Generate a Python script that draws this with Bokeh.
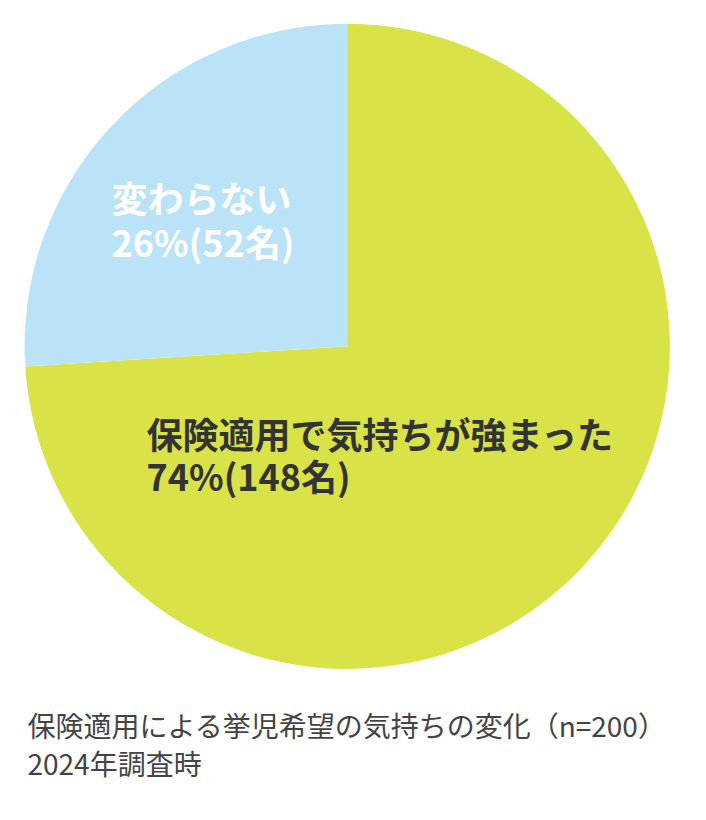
import math
from bokeh.plotting import figure
from bokeh.models import Range1d, ColumnDataSource
from bokeh.core.properties import value
from bokeh.embed import file_html
from bokeh.resources import INLINE

# data
categories = ["保険適用で気持ちが強まった", "変わらない"]
percents = [74, 26]
counts = [148, 52]
colors = ["#d9e247", "#bbe3f8"]
caption_lines = ["保険適用による挙児希望の気持ちの変化（n=200）", "2024年調査時"]

W, H = 690, 804
p = figure(width=W, height=H, output_backend="svg", toolbar_location=None,
           x_range=Range1d(0, W), y_range=Range1d(0, H), min_border=0)
p.axis.visible = False
p.grid.visible = False
p.outline_line_color = None
p.background_fill_color = "white"
p.border_fill_color = "white"

def Y(screen_y):
    return H - screen_y

cx, cy, r = 346.7, Y(345.8), 322.6

# wedges: start at 12 o'clock, first slice clockwise
total = sum(percents)
starts, ends = [], []
a = math.pi / 2
for v in percents:
    span = 2 * math.pi * v / total
    starts.append(a - span)
    ends.append(a)
    a -= span
src = ColumnDataSource(dict(start=starts, end=ends, color=colors))
p.wedge(x=cx, y=cy, radius=r, start_angle="start", end_angle="end",
        fill_color="color", line_color=None, source=src)

font = value("Noto Sans CJK JP")
# label for large slice
p.text(x=[146, 146], y=[Y(432), Y(474)],
       text=[categories[0], f"{percents[0]}%({counts[0]}名)"],
       text_font=font, text_font_size="36px", text_font_style="bold",
       text_color="#333333", text_baseline="middle", text_align="left")
# label for small slice
p.text(x=[111, 111], y=[Y(196), Y(240)],
       text=[categories[1], f"{percents[1]}%({counts[1]}名)"],
       text_font=font, text_font_size="36px", text_font_style="bold",
       text_color="#ffffff", text_baseline="middle", text_align="left")

# caption
p.text(x=[27, 27], y=[Y(724), Y(762)], text=caption_lines,
       text_font=font, text_font_size="28px", text_color="#444444",
       text_baseline="middle", text_align="left")

open("out.html", "w").write(file_html(p, INLINE))
